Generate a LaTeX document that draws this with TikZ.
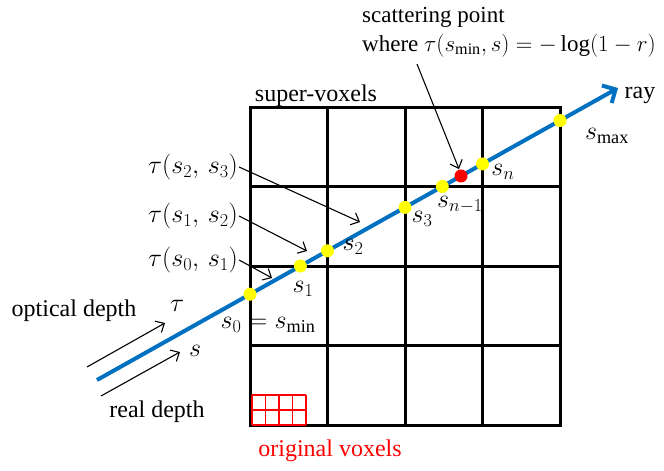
\documentclass[tikz,border=0pt]{standalone}
\usepackage{fix-cm}
\usepackage{fontspec}
\setmainfont{Liberation Serif}
\usetikzlibrary{arrows.meta,calc}
\definecolor{RVblue}{RGB}{0,112,192}
\definecolor{RVyellow}{RGB}{255,255,0}
\definecolor{RVred}{RGB}{255,0,0}
\tikzset{
  sv/.style={line width=3pt,draw=black,line cap=rect},
  ov/.style={line width=1.3pt,draw=RVred},
  raypath/.style={line width=4pt,draw=RVblue,-{Straight Barb[length=10pt,width=20pt]}},
  ydot/.style={circle,fill=RVyellow,inner sep=0pt,minimum size=13pt},
  rdot/.style={circle,fill=RVred,inner sep=0pt,minimum size=13pt},
  lbl/.style={font=\fontsize{24}{29}\selectfont,inner sep=1pt},
  mlbl/.style={font=\fontsize{26}{30}\selectfont,inner sep=1pt},
  pa/.style={-{Straight Barb[length=7pt,width=13pt]},line width=1.1pt}
}
\begin{document}
\begin{tikzpicture}[x=1pt,y=-1pt]
  \useasboundingbox (0,0) rectangle (664,471);
  % super-voxel grid
  \foreach \i in {0,...,4} {
    \draw[sv] (250+77.5*\i,107) -- (250+77.5*\i,425);
    \draw[sv] (250,107+79.5*\i) -- (560,107+79.5*\i);
  }
  % original voxels
  \foreach \i in {0,...,4} \draw[ov] (252+13.5*\i,395) -- (252+13.5*\i,425);
  \foreach \j in {0,...,2} \draw[ov] (252,395+15*\j) -- (306,395+15*\j);
  % ray and sample points
  \coordinate (rs) at (97,380);
  \coordinate (re) at (618,88);
  \draw[raypath] (rs) -- (re);
  \path (rs) -- (re)
    node[ydot,pos=.2937] (d0) {}
    node[ydot,pos=.3904] (d1) {}
    node[ydot,pos=.4424] (d2) {}
    node[ydot,pos=.5912] (d3) {}
    node[ydot,pos=.6627] (dn1) {}
    node[rdot,pos=.6987] (dsc) {}
    node[ydot,pos=.7399] (dn) {}
    node[ydot,pos=.8887] (dmax) {};
  % labels
  \node[lbl,font=\fontsize{23}{29}\selectfont,anchor=west,align=left] (scat) at (361,32) {scattering point\\where $\tau(s_{\min},s)=-\log(1-r)$};
  \node[lbl] (sup) at (316,96) {super-voxels};
  \node[lbl] (ray) at (640,95) {ray};
  \node[mlbl] (smax) at (607,136) {$s_{\max}$};
  \node[mlbl] (sn) at (503,172) {$s_n$};
  \node[mlbl] (sn1) at (460,205) {$s_{n-1}$};
  \node[mlbl] (s3) at (422,219) {$s_3$};
  \node[mlbl] (s2) at (353,247) {$s_2$};
  \node[mlbl] (s1) at (303,289) {$s_1$};
  \node[mlbl] (s0) at (268,325) {$s_0=s_{\min}$};
  \node[mlbl] (tau23) at (193,167) {$\tau(s_2,\,s_3)$};
  \node[mlbl] (tau12) at (193,216) {$\tau(s_1,\,s_2)$};
  \node[mlbl] (tau01) at (193,260) {$\tau(s_0,\,s_1)$};
  \node[lbl] (opt) at (74,311) {optical depth};
  \node[mlbl] (tau) at (177,306) {$\tau$};
  \node[mlbl] (sr) at (195,351) {$s$};
  \node[lbl] (real) at (157,412) {real depth};
  \node[lbl,text=RVred] (orig) at (330,451) {original voxels};
  % pointers
  \coordinate (scatFrom) at (417,64);
  \coordinate (scatTo) at (459,169);
  \coordinate (p23) at (360,222);
  \coordinate (p12) at (307,251);
  \coordinate (p01) at (272,278);
  \coordinate (optA) at (87,367);
  \coordinate (optB) at (165,323);
  \coordinate (realA) at (101,396);
  \coordinate (realB) at (180,352);
  \draw[pa] (scatFrom) -- (scatTo);
  \draw[pa] (tau23.east) -- (p23);
  \draw[pa] (tau12.east) -- (p12);
  \draw[pa] (tau01.east) -- (p01);
  \draw[pa] (optA) -- (optB);
  \draw[pa] (realA) -- (realB);
\end{tikzpicture}
\end{document}
